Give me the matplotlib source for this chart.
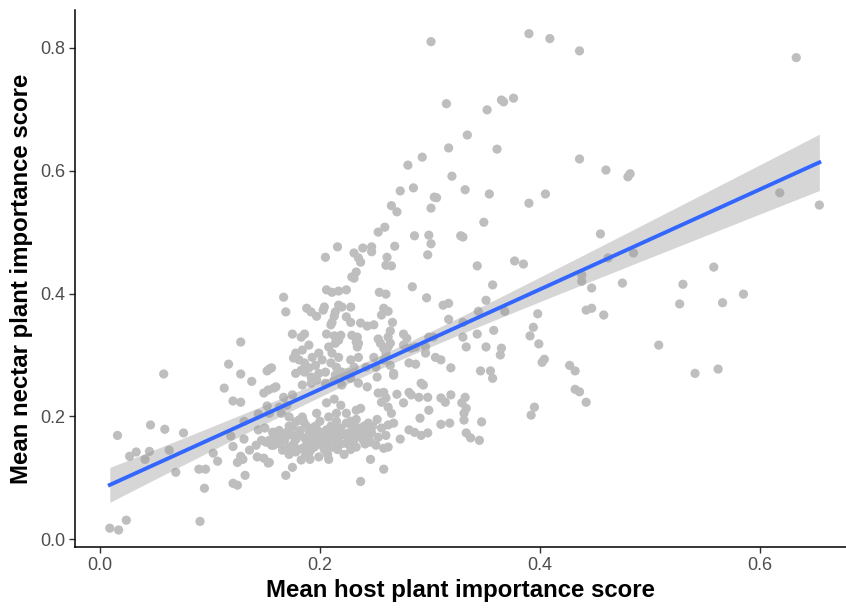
import numpy as np
import matplotlib.pyplot as plt

plt.rcParams['font.family'] = ['Liberation Sans', 'DejaVu Sans']

# mean host plant importance score per species
host_score = [
    0.301, 0.315, 0.334, 0.317, 0.293, 0.280, 0.320, 0.285, 0.273, 0.332,
    0.390, 0.409, 0.436, 0.352, 0.365, 0.367, 0.376, 0.361, 0.436, 0.460,
    0.480, 0.482, 0.354, 0.405, 0.633, 0.618, 0.654, 0.558, 0.530, 0.585,
    0.527, 0.566, 0.508, 0.541, 0.562,
    0.390, 0.349, 0.330, 0.455, 0.462, 0.485, 0.377, 0.385, 0.343, 0.438,
    0.438, 0.475, 0.447, 0.357, 0.351, 0.344, 0.368, 0.442, 0.447, 0.458,
    0.398, 0.330, 0.330, 0.394, 0.358, 0.343, 0.391, 0.399, 0.333, 0.351,
    0.365, 0.364, 0.404, 0.402, 0.427, 0.432, 0.346, 0.355,
    0.357, 0.432, 0.436, 0.442, 0.395, 0.392, 0.332, 0.333, 0.331, 0.331,
    0.347, 0.333, 0.337, 0.345,
    0.128, 0.117, 0.154, 0.058, 0.128, 0.138, 0.113, 0.121, 0.128, 0.152,
    0.149, 0.153, 0.158, 0.152, 0.144, 0.131, 0.046, 0.059, 0.076, 0.016,
    0.144, 0.150, 0.158, 0.119, 0.131, 0.147, 0.151, 0.156, 0.121, 0.142,
    0.045, 0.033, 0.027, 0.041, 0.063, 0.103, 0.107, 0.136, 0.128, 0.130,
    0.125, 0.143, 0.149, 0.153, 0.069, 0.090, 0.096, 0.132, 0.121, 0.125,
    0.095, 0.024, 0.009, 0.017, 0.091,
    0.304, 0.306, 0.301, 0.265, 0.270, 0.253, 0.259, 0.286, 0.299, 0.301,
    0.328, 0.268, 0.216, 0.205, 0.239, 0.247, 0.247, 0.231, 0.235, 0.237,
    0.261, 0.260, 0.265, 0.298, 0.233, 0.231, 0.229, 0.284, 0.297, 0.312,
    0.317, 0.206, 0.211, 0.217, 0.224, 0.254, 0.260, 0.167, 0.169, 0.188,
    0.192, 0.197, 0.204, 0.203, 0.217, 0.220, 0.214, 0.228, 0.258, 0.262,
    0.256, 0.213, 0.210, 0.211, 0.224, 0.228, 0.237, 0.243, 0.249, 0.266,
    0.264, 0.262, 0.317, 0.175, 0.183, 0.186, 0.206, 0.213, 0.219, 0.217,
    0.214, 0.229, 0.234, 0.233, 0.235, 0.234, 0.253, 0.255, 0.258, 0.276,
    0.279, 0.264, 0.262, 0.276, 0.283, 0.299, 0.303, 0.287, 0.296,
    0.190, 0.184, 0.178, 0.176, 0.181, 0.186, 0.193, 0.199, 0.202, 0.196,
    0.190, 0.183, 0.208, 0.211, 0.217, 0.210, 0.215, 0.220, 0.228, 0.235,
    0.231, 0.242, 0.249, 0.251, 0.260, 0.258, 0.264, 0.296, 0.305, 0.310,
    0.281, 0.287, 0.319, 0.156, 0.267,
    0.178, 0.186, 0.192, 0.199, 0.205, 0.214, 0.220, 0.226, 0.160, 0.167,
    0.175, 0.184, 0.192, 0.197, 0.205, 0.213, 0.220, 0.228, 0.235, 0.243,
    0.252, 0.267, 0.292, 0.294, 0.253, 0.258, 0.260, 0.256, 0.262, 0.270,
    0.276, 0.281, 0.283, 0.290, 0.298, 0.310, 0.319, 0.314, 0.329, 0.299,
    0.291, 0.265, 0.267, 0.262, 0.244, 0.252, 0.256, 0.237, 0.233, 0.310,
    0.318, 0.281, 0.286, 0.292, 0.298, 0.273, 0.260, 0.253, 0.247, 0.246,
    0.251, 0.258, 0.262, 0.246, 0.258, 0.237,
    0.157, 0.154, 0.158, 0.166, 0.172, 0.178, 0.184, 0.190, 0.199, 0.195,
    0.202, 0.211, 0.217, 0.224, 0.228, 0.233, 0.238, 0.235, 0.229, 0.224,
    0.219, 0.213, 0.206, 0.201, 0.193, 0.187, 0.181, 0.175, 0.170, 0.166,
    0.160, 0.179, 0.186, 0.192, 0.199, 0.205, 0.211, 0.219, 0.226, 0.233,
    0.183, 0.175, 0.169, 0.154, 0.197, 0.184, 0.178, 0.172, 0.165, 0.206,
    0.208, 0.215, 0.219, 0.213, 0.224, 0.233, 0.229, 0.154, 0.163, 0.170,
    # densest part of the cloud
    0.185, 0.200, 0.215, 0.228,
    0.172, 0.196, 0.210, 0.240, 0.248,
    0.163, 0.182, 0.190, 0.198, 0.218, 0.230, 0.242,
    0.160, 0.173, 0.195, 0.212, 0.222, 0.245,
    0.168, 0.178, 0.193, 0.207, 0.214, 0.231, 0.239,
    0.164, 0.176, 0.188, 0.205, 0.219, 0.227, 0.241,
    0.170, 0.180, 0.192, 0.204, 0.216, 0.228,
    0.172, 0.187, 0.207, 0.222,
    0.191, 0.208,
]

# mean nectar plant importance score per species
nectar_score = [
    0.810, 0.709, 0.658, 0.637, 0.622, 0.609, 0.591, 0.572, 0.567, 0.569,
    0.823, 0.815, 0.795, 0.699, 0.715, 0.712, 0.718, 0.635, 0.619, 0.601,
    0.590, 0.595, 0.562, 0.562, 0.784, 0.564, 0.544, 0.443, 0.415, 0.399,
    0.383, 0.385, 0.316, 0.270, 0.277,
    0.547, 0.516, 0.492, 0.497, 0.458, 0.466, 0.453, 0.448, 0.445, 0.430,
    0.420, 0.417, 0.409, 0.414, 0.389, 0.371, 0.371, 0.373, 0.376, 0.365,
    0.367, 0.353, 0.329, 0.345, 0.340, 0.334, 0.331, 0.318, 0.313, 0.313,
    0.311, 0.300, 0.293, 0.288, 0.283, 0.274, 0.274, 0.274,
    0.262, 0.244, 0.240, 0.223, 0.215, 0.202, 0.231, 0.213, 0.205, 0.194,
    0.191, 0.173, 0.165, 0.161,
    0.321, 0.285, 0.277, 0.269, 0.269, 0.257, 0.246, 0.225, 0.223, 0.274,
    0.238, 0.243, 0.246, 0.217, 0.204, 0.192, 0.186, 0.179, 0.173, 0.169,
    0.178, 0.181, 0.174, 0.168, 0.163, 0.161, 0.158, 0.153, 0.151, 0.153,
    0.143, 0.142, 0.135, 0.130, 0.145, 0.140, 0.127, 0.145, 0.135, 0.130,
    0.125, 0.134, 0.132, 0.124, 0.109, 0.114, 0.114, 0.104, 0.091, 0.088,
    0.083, 0.031, 0.018, 0.015, 0.029,
    0.557, 0.556, 0.539, 0.543, 0.533, 0.500, 0.508, 0.494, 0.495, 0.481,
    0.494, 0.477, 0.476, 0.459, 0.474, 0.476, 0.468, 0.466, 0.458, 0.451,
    0.459, 0.446, 0.445, 0.463, 0.435, 0.425, 0.427, 0.411, 0.393, 0.381,
    0.384, 0.406, 0.402, 0.404, 0.406, 0.402, 0.399, 0.394, 0.370, 0.376,
    0.370, 0.363, 0.378, 0.373, 0.381, 0.378, 0.370, 0.378, 0.376, 0.371,
    0.365, 0.363, 0.349, 0.353, 0.362, 0.353, 0.352, 0.347, 0.349, 0.353,
    0.339, 0.329, 0.358, 0.334, 0.329, 0.334, 0.334, 0.331, 0.332, 0.324,
    0.319, 0.332, 0.329, 0.321, 0.319, 0.313, 0.326, 0.319, 0.311, 0.334,
    0.327, 0.319, 0.313, 0.316, 0.311, 0.329, 0.329, 0.313, 0.313,
    0.316, 0.308, 0.303, 0.295, 0.292, 0.287, 0.296, 0.303, 0.292, 0.283,
    0.279, 0.275, 0.313, 0.303, 0.296, 0.287, 0.280, 0.272, 0.292, 0.296,
    0.280, 0.280, 0.296, 0.280, 0.303, 0.292, 0.283, 0.303, 0.296, 0.292,
    0.287, 0.285, 0.279, 0.279, 0.270,
    0.270, 0.272, 0.264, 0.270, 0.272, 0.267, 0.270, 0.272, 0.248, 0.231,
    0.235, 0.251, 0.254, 0.259, 0.254, 0.259, 0.251, 0.262, 0.254, 0.248,
    0.264, 0.267, 0.254, 0.251, 0.238, 0.239, 0.230, 0.223, 0.215, 0.236,
    0.222, 0.239, 0.235, 0.231, 0.231, 0.230, 0.235, 0.223, 0.222, 0.210,
    0.197, 0.205, 0.189, 0.186, 0.189, 0.195, 0.181, 0.213, 0.210, 0.187,
    0.189, 0.178, 0.174, 0.169, 0.173, 0.163, 0.169, 0.166, 0.173, 0.158,
    0.153, 0.148, 0.150, 0.130, 0.114, 0.094,
    0.174, 0.161, 0.153, 0.145, 0.150, 0.142, 0.148, 0.140, 0.134, 0.150,
    0.153, 0.150, 0.158, 0.156, 0.165, 0.150, 0.169, 0.181, 0.186, 0.189,
    0.181, 0.182, 0.178, 0.173, 0.181, 0.186, 0.194, 0.182, 0.174, 0.166,
    0.158, 0.169, 0.165, 0.166, 0.161, 0.165, 0.169, 0.169, 0.173, 0.173,
    0.129, 0.117, 0.104, 0.125, 0.205, 0.199, 0.191, 0.199, 0.205, 0.222,
    0.199, 0.205, 0.218, 0.228, 0.205, 0.195, 0.189, 0.205, 0.215, 0.218,
    # densest part of the cloud
    0.192, 0.192, 0.192, 0.192,
    0.184, 0.184, 0.184, 0.184, 0.184,
    0.177, 0.177, 0.177, 0.177, 0.177, 0.177, 0.177,
    0.170, 0.170, 0.170, 0.170, 0.170, 0.170,
    0.162, 0.162, 0.162, 0.162, 0.162, 0.162, 0.162,
    0.155, 0.155, 0.155, 0.155, 0.155, 0.155, 0.155,
    0.146, 0.146, 0.146, 0.146, 0.146, 0.146,
    0.138, 0.138, 0.138, 0.138,
    0.130, 0.130,
]

x = np.array(host_score)
y = np.array(nectar_score)

# least-squares line with 95% confidence band
n = len(x)
slope, intercept = np.polyfit(x, y, 1)
resid = y - (intercept + slope * x)
s = np.sqrt(np.sum(resid ** 2) / (n - 2))
sxx = np.sum((x - x.mean()) ** 2)
xs = np.linspace(x.min(), x.max(), 100)
ys = intercept + slope * xs
half = 1.97 * s * np.sqrt(1 / n + (xs - x.mean()) ** 2 / sxx)

fig = plt.figure(figsize=(8.46, 6.08), dpi=100)
ax = fig.add_axes([0.0887, 0.100, 0.911, 0.884])

ax.scatter(x, y, s=44, color='#BEBEBE', edgecolors='none', zorder=2)
ax.fill_between(xs, ys - half, ys + half, color='#999999', alpha=0.4,
                linewidth=0, zorder=3)
ax.plot(xs, ys, color='#3366FF', linewidth=2.8, zorder=4)

ax.set_xlim(-0.0226, 0.678)
ax.set_ylim(-0.013, 0.862)
ax.set_xticks([0.0, 0.2, 0.4, 0.6])
ax.set_yticks([0.0, 0.2, 0.4, 0.6, 0.8])
ax.set_xticklabels(['0.0', '0.2', '0.4', '0.6'])
ax.set_yticklabels(['0.0', '0.2', '0.4', '0.6', '0.8'])

for side in ['top', 'right']:
    ax.spines[side].set_visible(False)
for side in ['left', 'bottom']:
    ax.spines[side].set_linewidth(1.1)
    ax.spines[side].set_color('black')

ax.tick_params(axis='both', length=4, width=1.0, color='#333333',
               labelsize=13, labelcolor='#4D4D4D', pad=3)

ax.set_xlabel('Mean host plant importance score', fontsize=17.3,
              fontweight='bold', labelpad=4)
ax.set_ylabel('Mean nectar plant importance score', fontsize=17.3,
              fontweight='bold', labelpad=5)

fig.savefig('out.png', dpi=100)
